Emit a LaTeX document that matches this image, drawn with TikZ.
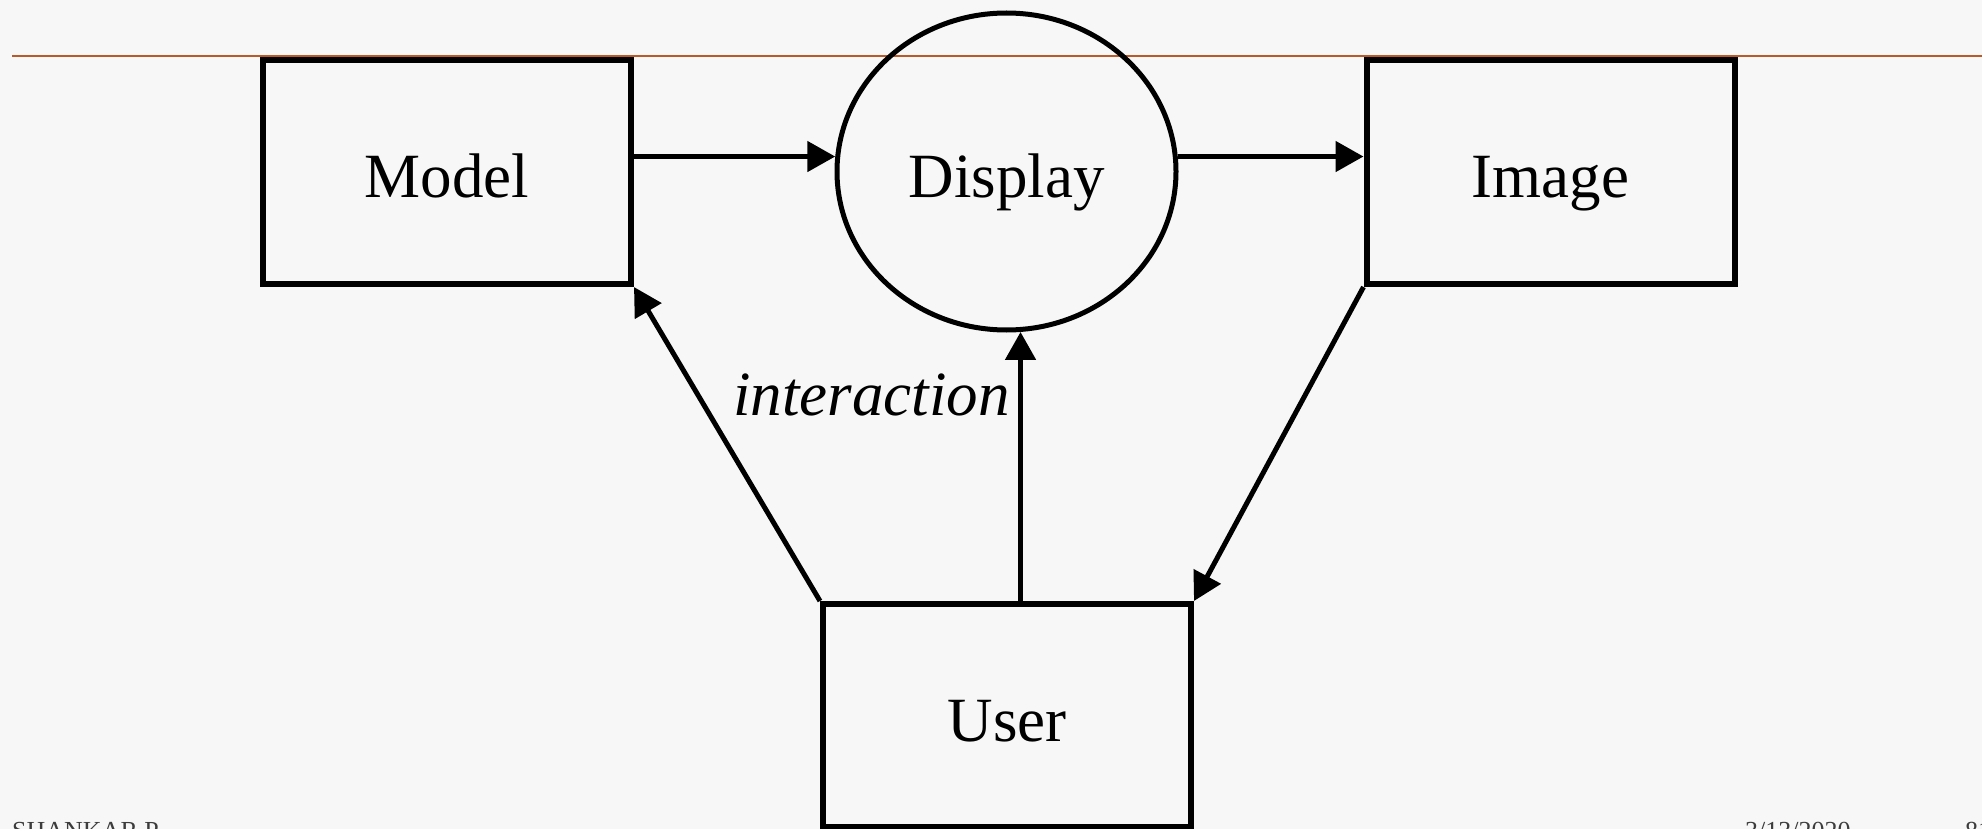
\documentclass[tikz,border=0pt]{standalone}
\usepackage{fontspec}
\setmainfont{Liberation Serif}
\usetikzlibrary{arrows.meta,shapes.geometric}
\definecolor{rule}{RGB}{185,90,40}
\definecolor{paper}{RGB}{247,247,247}
\definecolor{footer}{RGB}{60,60,60}
\begin{document}
\begin{tikzpicture}[x=1pt,y=-1pt,
  lbltext/.style={font=\fontsize{63}{70}\selectfont,text height=52pt,text depth=0pt},
  box/.style={draw=black,line width=6pt,rectangle,inner sep=0pt,
    minimum width=368pt,minimum height=224pt,lbltext},
  oval/.style={draw=black,line width=5pt,ellipse,inner sep=0pt,
    minimum width=339pt,minimum height=317pt,lbltext},
  arr/.style={line width=5pt,-{Triangle[length=28pt,width=30pt]}},
  foot/.style={font=\fontsize{26}{30}\selectfont,text=footer,inner sep=0pt,anchor=base west}]
  % page
  \fill[paper] (0,0) rectangle (1982,829);
  \useasboundingbox (0,0) rectangle (1982,829);
  % title rule
  \draw[rule,line width=2.7pt] (12,56) -- (1982,56);
  % blocks
  \node[box]  (Model)   at (447,172)     {Model};
  \node[oval] (Display) at (1006.5,171.5) {Display};
  \node[box]  (Image)   at (1550.5,172)  {Image};
  \node[box,minimum height=223pt] (User) at (1007,715.5) {User};
  % connectors
  \draw[arr] (Model.east |- Display.175) -- (Display.175);
  \draw[arr] (Display.5) -- (Display.5 -| Image.west);
  \draw[arr] (User.north west) -- (Model.south east);
  \draw[arr] (Display.-85 |- User.north) -- (Display.-85);
  \draw[arr] (Image.south west) -- (User.north east);
  \node[inner sep=0pt,anchor=base west,font=\fontsize{63}{70}\selectfont\itshape]
    (lbl) at (733,415) {interaction};
  % footer
  \node[foot] (author) at (12,839) {SHANKAR P.};
  \node[foot] (date) at (1745,839) {3/13/2020};
  \node[foot] (page) at (1965,839) {81};
\end{tikzpicture}
\end{document}
